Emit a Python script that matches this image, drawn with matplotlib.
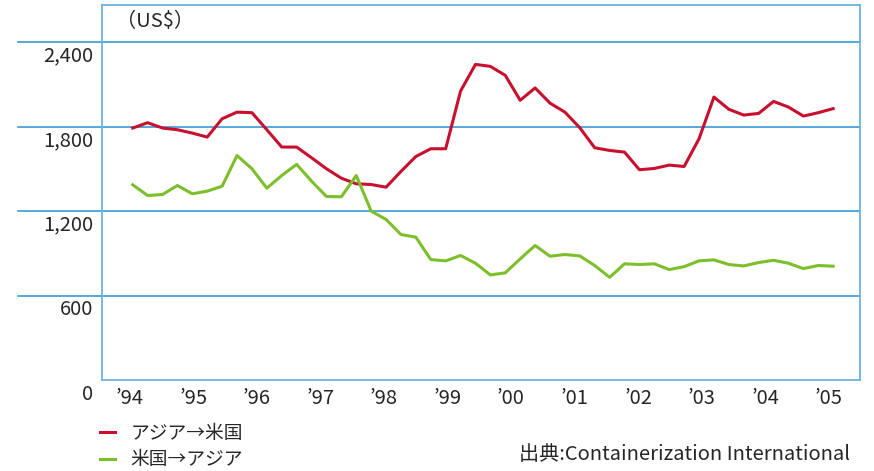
import matplotlib.pyplot as plt
import numpy as np

plt.rcParams['font.family'] = ['Noto Sans CJK JP', 'DejaVu Sans']

# quarterly freight rates, 1994Q1 - 2005Q4 (US$)
asia_to_us = [1789, 1827, 1789, 1777, 1753, 1725, 1855, 1902, 1898, 1777,
              1654, 1654, 1578, 1500, 1433, 1393, 1388, 1369, 1481, 1587,
              1642, 1642, 2052, 2241, 2227, 2163, 1986, 2074, 1966, 1902,
              1791, 1649, 1630, 1618, 1493, 1502, 1526, 1516, 1713, 2009,
              1922, 1881, 1893, 1978, 1938, 1874, 1898, 1927]
us_to_asia = [1386, 1310, 1317, 1381, 1322, 1341, 1376, 1594, 1500, 1362,
              1452, 1531, 1412, 1303, 1301, 1452, 1199, 1140, 1033, 1014,
              855, 846, 884, 829, 746, 761, 860, 955, 879, 891,
              881, 813, 729, 825, 820, 825, 784, 805, 846, 853,
              820, 810, 834, 850, 829, 791, 813, 808]
year_labels = ["’94", "’95", "’96", "’97", "’98", "’99", "’00",
               "’01", "’02", "’03", "’04", "’05"]
y_ticks = [0, 600, 1200, 1800, 2400]
y_labels = ["0", "600", "1,200", "1,800", "2,400"]

red = "#c8102e"
green = "#7cbf2a"
grid_blue = "#2a8fd0"
frame_blue = "#6cb4e0"
txt = "#262626"

x = np.arange(len(asia_to_us))

fig = plt.figure(figsize=(8.74, 4.71), dpi=100)
ax = fig.add_axes([102/874, 1 - 380/471, 758/874, 375/471])

ax.set_xlim(-2.06, 48.8)
ax.set_ylim(0, 2400 * 375 / 338)

for v in y_ticks[1:]:
    ax.axhline(v, xmin=-84/758, xmax=1, color=grid_blue, lw=1.1,
               clip_on=False, zorder=1)

ax.plot(x, asia_to_us, color=red, lw=2.2, zorder=3, label="アジア→米国")
ax.plot(x, us_to_asia, color=green, lw=2.2, zorder=3, label="米国→アジア")

for s in ax.spines.values():
    s.set_color(frame_blue)
    s.set_linewidth(1.3)

ax.set_yticks([])
ax.set_xticks([])
for v, lbl in zip(y_ticks, y_labels):
    ax.annotate(lbl, xy=(0, v), xycoords=('axes fraction', 'data'),
                xytext=(-9, -14), textcoords='offset pixels',
                ha='right', va='center', fontsize=14.5, color=txt)

tick_pos = np.linspace(-0.2, 46.7, len(year_labels))
for p, lbl in zip(tick_pos, year_labels):
    ax.annotate(lbl, xy=(p, 0), xycoords=('data', 'axes fraction'),
                xytext=(0, -18), textcoords='offset pixels',
                ha='center', va='center', fontsize=14.5, color=txt)

ax.text(0.018, 0.955, "（US$）", transform=ax.transAxes, fontsize=14.5,
        color=txt, ha='left', va='center')

leg = fig.legend(loc='upper left', bbox_to_anchor=(92/874, 1 - 415/471),
                 frameon=False, handlelength=0.85, handletextpad=0.8,
                 labelspacing=0.3, fontsize=13.5, borderaxespad=0)
for t in leg.get_texts():
    t.set_color(txt)

fig.text(850/874, 1 - 454/471, "出典:Containerization International",
         ha='right', va='center', fontsize=14.5, color=txt)

plt.savefig("out.png", dpi=100)
